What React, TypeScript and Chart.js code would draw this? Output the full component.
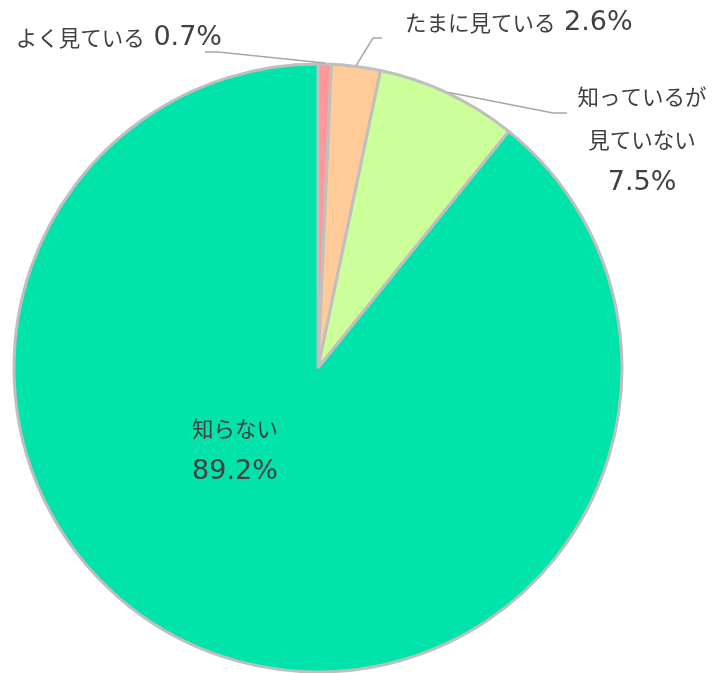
import React, { useEffect, useRef } from "react";
import { Chart, registerables } from "chart.js";

Chart.register(...registerables);

const categories = ["よく見ている", "たまに見ている", "知っているが見ていない", "知らない"];
const values = [0.7, 2.6, 7.5, 89.2];
const colors = ["#FF9999", "#FFCC99", "#CCFF99", "#00E3AB"];
const labelLines = [
  ["よく見ている 0.7%"],
  ["たまに見ている 2.6%"],
  ["知っているが", "見ていない", "7.5%"],
  ["知らない", "89.2%"],
];

const CJK_FONT = '21.5px "Noto Sans CJK JP", sans-serif';
const LATIN_FONT = '27px "DejaVu Sans", "Noto Sans CJK JP", sans-serif';

// label layout: text anchor, alignment, leader elbow & end (null for inside)
const labelLayout = [
  { x: 222, y: 38, align: "right", elbow: [218, 52], end: [205, 52] },
  { x: 405, y: 23, align: "left", elbow: [373, 38], end: [382, 38] },
  { x: 642, y: 97, align: "center", elbow: [553, 113], end: [567, 113] },
  { x: 235, y: 429, align: "center", elbow: null, end: null },
];

function splitRuns(text: string) {
  const runs: { t: string; latin: boolean }[] = [];
  const re = /[\x00-\x7F]+|[^\x00-\x7F]+/g;
  let m;
  while ((m = re.exec(text))) runs.push({ t: m[0], latin: /^[\x00-\x7F]/.test(m[0]) });
  return runs;
}

function drawMixed(ctx: CanvasRenderingContext2D, text: string, x: number, y: number, align: string) {
  const runs = splitRuns(text).map((r) => {
    ctx.font = r.latin ? LATIN_FONT : CJK_FONT;
    return { ...r, w: ctx.measureText(r.t).width };
  });
  const total = runs.reduce((s, r) => s + r.w, 0);
  let cx = align === "right" ? x - total : align === "center" ? x - total / 2 : x;
  ctx.textAlign = "left";
  runs.forEach((r) => {
    ctx.font = r.latin ? LATIN_FONT : CJK_FONT;
    ctx.fillText(r.t, cx, y);
    cx += r.w;
  });
}

const labelPlugin = {
  id: "pieLabels",
  afterDatasetsDraw(chart: any) {
    const ctx = chart.ctx;
    const meta = chart.getDatasetMeta(0);
    ctx.save();
    ctx.fillStyle = "#404040";
    ctx.textBaseline = "middle";
    meta.data.forEach((arc: any, i: number) => {
      const L = labelLayout[i];
      if (L.elbow && L.end) {
        const mid = (arc.startAngle + arc.endAngle) / 2;
        const r = arc.outerRadius + 1;
        const sx = arc.x + Math.cos(mid) * r;
        const sy = arc.y + Math.sin(mid) * r;
        ctx.beginPath();
        ctx.strokeStyle = "#A6A6A6";
        ctx.lineWidth = 1.5;
        ctx.moveTo(sx, sy);
        ctx.lineTo(L.elbow[0], L.elbow[1]);
        ctx.lineTo(L.end[0], L.end[1]);
        ctx.stroke();
      }
      labelLines[i].forEach((t, k) => {
        drawMixed(ctx, t, L.x, L.y + k * 43, L.align);
      });
    });
    ctx.restore();
  },
};

export default function App() {
  const ref = useRef<HTMLCanvasElement>(null);
  useEffect(() => {
    document.body.style.margin = "0";
    const chart = new Chart(ref.current!, {
      type: "pie",
      data: {
        labels: categories,
        datasets: [
          {
            data: values,
            backgroundColor: colors,
            borderColor: "#BFBFBF",
            borderWidth: 3,
          },
        ],
      },
      options: {
        animation: false,
        responsive: false,
        radius: 304,
        layout: { padding: { left: 0, right: 77, top: 63, bottom: 0 } },
        plugins: {
          legend: { display: false },
          tooltip: { enabled: false },
        },
      },
      plugins: [labelPlugin],
    });
    return () => chart.destroy();
  }, []);
  return (
    <div style={{ position: "absolute", left: 0, top: 0, width: 713, height: 673, background: "#fff" }}>
      <canvas ref={ref} width={713} height={673} />
    </div>
  );
}
